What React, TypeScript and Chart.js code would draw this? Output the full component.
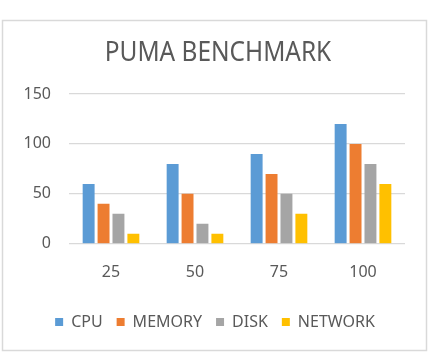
import React, { useEffect, useRef } from "react";
import { Chart, registerables } from "chart.js";

Chart.register(...registerables);

const categories = ["25", "50", "75", "100"];
const cpu = [60, 80, 90, 120];
const memory = [40, 50, 70, 100];
const disk = [30, 20, 50, 80];
const network = [10, 10, 30, 60];
const chartTitle = "PUMA BENCHMARK";

const FONT = "'Noto Sans', 'Open Sans', sans-serif";
const TEXT = "#595959";

// Light frame around the whole chart, plus white background.
const frame = {
  id: "frame",
  beforeDraw(chart: any) {
    const ctx = chart.ctx;
    ctx.save();
    ctx.fillStyle = "#ffffff";
    ctx.fillRect(0, 0, chart.width, chart.height);
    ctx.strokeStyle = "#d9d9d9";
    ctx.lineWidth = 1.5;
    ctx.strokeRect(2.5, 20.5, 424, 330);
    ctx.restore();
  },
};

// Condensed title, drawn with a slight horizontal squeeze.
const condensedTitle = {
  id: "condensedTitle",
  afterDraw(chart: any) {
    const ctx = chart.ctx;
    ctx.save();
    ctx.translate(chart.width / 2 + 3, 61);
    ctx.scale(0.905, 1);
    ctx.font = `normal 27px ${FONT}`;
    ctx.fillStyle = TEXT;
    ctx.textAlign = "center";
    ctx.textBaseline = "alphabetic";
    ctx.fillText(chartTitle, 0, 0);
    ctx.restore();
  },
};

export default function App() {
  const ref = useRef<HTMLCanvasElement>(null);

  useEffect(() => {
    if (!ref.current) return;
    const chart = new Chart(ref.current, {
      type: "bar",
      data: {
        labels: categories,
        datasets: [
          { label: "CPU", data: cpu, backgroundColor: "#5B9BD5" },
          { label: "MEMORY", data: memory, backgroundColor: "#ED7D31" },
          { label: "DISK", data: disk, backgroundColor: "#A5A5A5" },
          { label: "NETWORK", data: network, backgroundColor: "#FFC000" },
        ],
      },
      plugins: [frame, condensedTitle],
      options: {
        animation: false,
        responsive: false,
        maintainAspectRatio: false,
        datasets: {
          bar: { categoryPercentage: 0.71, barPercentage: 0.8 },
        },
        layout: { padding: { left: 25, right: 25, top: 94, bottom: 16 } },
        plugins: {
          tooltip: { enabled: false },
          title: { display: false },
          legend: {
            position: "bottom",
            labels: {
              color: TEXT,
              font: { family: FONT, size: 16 },
              boxWidth: 8,
              boxHeight: 8,
              padding: 14,
            },
          },
        },
        scales: {
          x: {
            grid: { display: false },
            border: { display: false },
            ticks: { color: TEXT, font: { family: FONT, size: 16 }, padding: 11 },
            afterFit(scale: any) {
              scale.height += 7;
            },
          },
          y: {
            min: 0,
            max: 150,
            ticks: { stepSize: 50, color: TEXT, font: { family: FONT, size: 16 }, padding: 18 },
            grid: { color: "#d9d9d9", lineWidth: 1.3, drawTicks: false },
            border: { display: false },
            afterFit(scale: any) {
              scale.width = 44;
            },
          },
        },
      },
    });
    return () => chart.destroy();
  }, []);

  return (
    <div style={{ position: "absolute", left: 0, top: 0, width: 430, height: 356 }}>
      <canvas ref={ref} width={430} height={356} style={{ display: "block" }} />
    </div>
  );
}
